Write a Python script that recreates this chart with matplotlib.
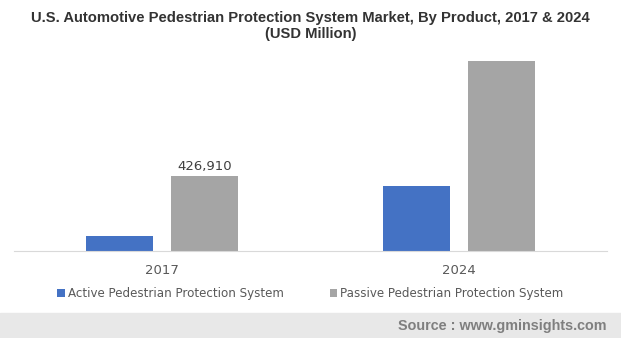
import matplotlib.pyplot as plt
import numpy as np

# market size by product, USD million
years = ["2017", "2024"]
active = [85000, 372000]
passive = [426910, 1082000]
series_names = ["Active Pedestrian Protection System", "Passive Pedestrian Protection System"]

plt.rcParams['font.family'] = ['Liberation Sans', 'DejaVu Sans']

fig = plt.figure(figsize=(6.21, 3.38), dpi=100)
ax = fig.add_axes([14 / 621, 87 / 338, 593 / 621, 200 / 338])

x = np.arange(len(years))
w = 0.226
off = 0.143
b1 = ax.bar(x - off, active, w, color="#4472C4", label=series_names[0])
b2 = ax.bar(x + off, passive, w, color="#A5A5A5", label=series_names[1])

# only the 2017 passive bar carries a value label
ax.text(x[0] + off, passive[0] + 15000, f"{passive[0]:,}", ha="center", va="bottom",
        fontsize=9.5, color="#404040", family="DejaVu Sans")

ax.set_xlim(-0.5, 1.5)
ax.set_ylim(0, 1138000)
ax.set_yticks([])
ax.set_xticks(x)
ax.set_xticklabels(years, fontsize=9.5, color="#595959", family="DejaVu Sans")
ax.tick_params(axis="x", length=0, pad=9)
for s in ["top", "right", "left"]:
    ax.spines[s].set_visible(False)
ax.spines["bottom"].set_color("#d9d9d9")

fig.text(0.5, 1 - 11 / 338, "U.S. Automotive Pedestrian Protection System Market, By Product, 2017 & 2024\n(USD Million)",
         ha="center", va="top", fontsize=10.6, fontweight="bold", color="#333333", linespacing=1.2)

fig.legend(handles=[b1, b2], loc="center", bbox_to_anchor=(0.5, 1 - 294 / 338), ncol=2,
           frameon=False, handlelength=0.6, handleheight=0.6, handletextpad=0.3,
           columnspacing=3.8, prop={"family": "DejaVu Sans", "size": 8.6},
           labelcolor="#595959")

# footer band with source
fig.patches.append(plt.Rectangle((0, 0), 1, 25 / 338, transform=fig.transFigure,
                                 color="#e8e8e8", zorder=0))
fig.text(607 / 621, 12 / 338, "Source : www.gminsights.com", ha="right", va="center",
         fontsize=10.4, fontweight="bold", color="#7f7f7f")

fig.savefig("out.png", dpi=100)
